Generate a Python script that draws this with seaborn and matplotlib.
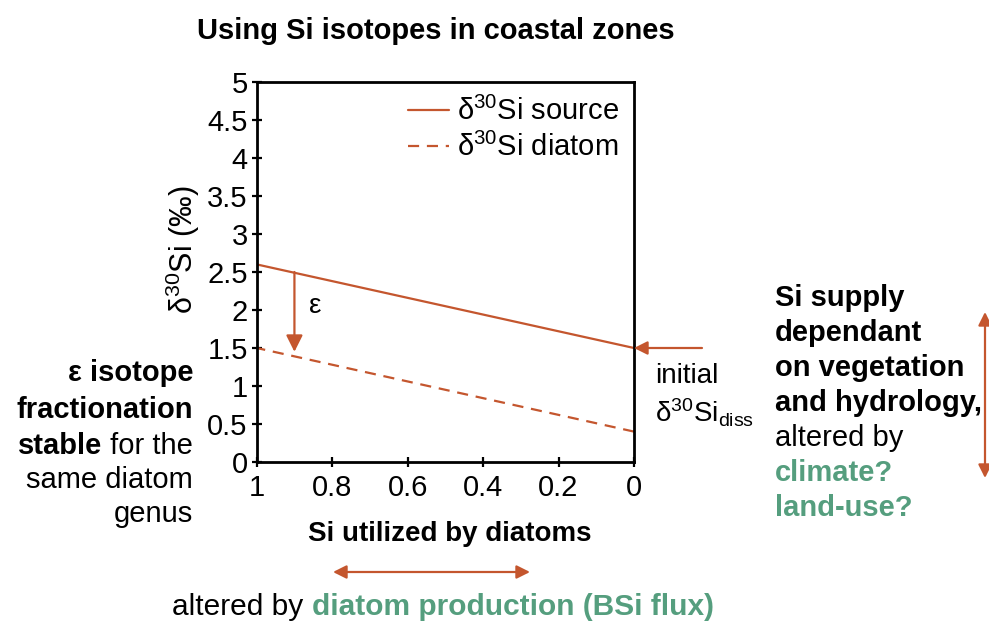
# Si isotopes in coastal zones - schematic
import pandas as pd
import matplotlib
matplotlib.use("Agg")
import matplotlib.pyplot as plt
import seaborn as sns

# data
utilized = [1.0, 0.0]
source_vals = [2.6, 1.5]
diatom_vals = [1.5, 0.4]
series_names = ["δ$^{30}$Si source", "δ$^{30}$Si diatom"]
y_ticks = [0, 0.5, 1, 1.5, 2, 2.5, 3, 3.5, 4, 4.5, 5]
x_ticks = [1, 0.8, 0.6, 0.4, 0.2, 0]

df = pd.DataFrame({
    "utilized": utilized * 2,
    "d30Si": source_vals + diatom_vals,
    "series": [series_names[0]] * 2 + [series_names[1]] * 2,
})

rust = "#c4562e"
green = "#559e7e"

sns.set_style("white")
plt.rcParams.update({
    "font.family": ["Liberation Sans", "DejaVu Sans"],
    "mathtext.fontset": "custom",
    "mathtext.rm": "Liberation Sans",
    "mathtext.it": "Liberation Sans:italic",
    "mathtext.bf": "Liberation Sans:bold",
    "axes.edgecolor": "black",
    "axes.linewidth": 2.0,
    "text.color": "black",
    "axes.labelcolor": "black",
    "xtick.color": "black",
    "ytick.color": "black",
})

fig = plt.figure(figsize=(9.89, 6.21), dpi=100)
W, H = 989, 621
ax = fig.add_axes([256.7 / W, 1 - 462 / H, 377.3 / W, 380 / H])

sns.lineplot(data=df, x="utilized", y="d30Si", style="series",
             hue="series", palette=[rust, rust],
             dashes=[(None, None), (5, 3.5)], linewidth=1.6, ax=ax)

ax.set_xlim(1, 0)
ax.set_ylim(0, 5)
ax.set_xticks(x_ticks)
ax.set_xticklabels([f"{v:g}" for v in x_ticks])
ax.set_yticks(y_ticks)
ax.set_yticklabels([f"{v:g}" for v in y_ticks])
ax.tick_params(direction="inout", length=7, width=1.6, labelsize=21,
               left=True, bottom=True, colors="black")
ax.tick_params(axis="x", pad=5)
ax.tick_params(axis="y", pad=3)
for s in ax.spines.values():
    s.set_color("black")

ax.set_xlabel("Si utilized by diatoms", fontsize=20, fontweight="bold")
ax.xaxis.set_label_coords(0.512, -0.155)
ax.set_ylabel("δ$^{30}$Si (‰)", fontsize=22)
ax.yaxis.set_label_coords(-0.145, 0.558)

leg = ax.legend(frameon=False, fontsize=21, loc="upper right",
                handlelength=1.4, handletextpad=0.3, labelspacing=0.25,
                borderaxespad=0.1)
for ln in leg.get_lines():
    ln.set_linewidth(1.6)
for tx in leg.get_texts():
    tx.set_color("black")

# epsilon arrow
ax.annotate("", xy=(0.9, 1.45), xytext=(0.9, 2.5),
            arrowprops=dict(arrowstyle="-|>,head_length=1.0,head_width=0.5",
                            color=rust, lw=1.6, shrinkA=0, shrinkB=0))
ax.text(0.845, 2.05, "ε", fontsize=20, ha="center", va="center")

# initial arrow
ax.annotate("", xy=(0.0, 1.5), xytext=(702 / W, 1 - 348 / H),
            textcoords="figure fraction",
            arrowprops=dict(arrowstyle="-|>,head_length=0.8,head_width=0.4",
                            color=rust, lw=1.6, shrinkA=0, shrinkB=0),
            annotation_clip=False)
fig.text(655 / W, 1 - 376 / H, "initial", fontsize=20, va="center")
fig.text(655 / W, 1 - 413 / H, "δ$^{30}$Si$_{\\rm diss}$", fontsize=20,
         va="center")

# title
fig.text(436 / W, 1 - 31 / H, "Using Si isotopes in coastal zones",
         fontsize=21, fontweight="bold", ha="center", va="center")

fig.canvas.draw()
rend = fig.canvas.get_renderer()

# left text block (right aligned)
xr = 193 / W
fs = 21
fig.text(xr, 1 - 373 / H, "ε isotope", fontsize=fs, fontweight="bold",
         ha="right", va="center")
fig.text(xr, 1 - 410 / H, "fractionation", fontsize=fs, fontweight="bold",
         ha="right", va="center")
t = fig.text(xr, 1 - 446 / H, " for the", fontsize=fs, ha="right",
             va="center")
bb = t.get_window_extent(rend)
fig.text(bb.x0 / W, 1 - 446 / H, "stable", fontsize=fs, fontweight="bold",
         ha="right", va="center")
fig.text(xr, 1 - 480 / H, "same diatom", fontsize=fs, ha="right",
         va="center")
fig.text(xr, 1 - 514 / H, "genus", fontsize=fs, ha="right", va="center")

# right text block
xl = 775 / W
right_lines = [("Si supply", "black", "bold"),
               ("dependant", "black", "bold"),
               ("on vegetation", "black", "bold"),
               ("and hydrology,", "black", "bold"),
               ("altered by", "black", "normal"),
               ("climate?", green, "bold"),
               ("land-use?", green, "bold")]
for i, (txt, col, wt) in enumerate(right_lines):
    fig.text(xl, 1 - (298 + 35 * i) / H, txt, fontsize=fs, color=col,
             fontweight=wt, ha="left", va="center")

# vertical double arrow on right
fig.add_artist(matplotlib.patches.FancyArrowPatch(
    (985 / W, 1 - 478 / H), (985 / W, 1 - 312 / H),
    transform=fig.transFigure, arrowstyle="<|-|>,head_length=8,head_width=4",
    color=rust, lw=1.6, shrinkA=0, shrinkB=0))

# horizontal double arrow at bottom
fig.add_artist(matplotlib.patches.FancyArrowPatch(
    (333 / W, 1 - 572 / H), (530 / W, 1 - 572 / H),
    transform=fig.transFigure, arrowstyle="<|-|>,head_length=8,head_width=4",
    color=rust, lw=1.6, shrinkA=0, shrinkB=0))

# bottom line
t = fig.text(172 / W, 1 - 615 / H, "altered by ", fontsize=21.5, ha="left",
             va="baseline")
bb = t.get_window_extent(rend)
fig.text(bb.x1 / W, 1 - 615 / H, "diatom production (BSi flux)",
         fontsize=21.5, fontweight="bold", color=green, ha="left",
         va="baseline")

fig.savefig("out.png", dpi=100)
